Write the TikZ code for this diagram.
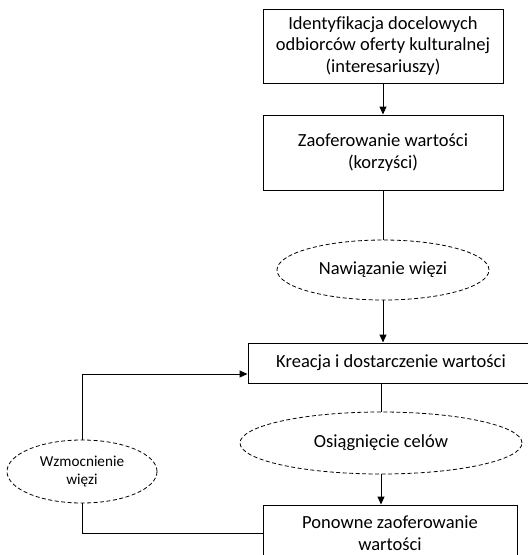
\documentclass[tikz,border=0pt]{standalone}
\usepackage{fontspec}
\setmainfont{Carlito}[Ligatures=NoCommon]
\usetikzlibrary{shapes.geometric,arrows.meta}
\tikzset{
  txt/.style={font=\fontsize{18.5}{21.7}\selectfont, align=center},
  box/.style={txt, draw, line width=1pt, inner sep=0pt},
  oval/.style={txt, ellipse, draw, dashed, dash pattern=on 4pt off 2.5pt, line width=0.8pt, inner sep=0pt},
  conn/.style={line width=1pt},
  arr/.style={conn, -{Triangle[length=8pt,width=7pt]}}
}
\begin{document}
\begin{tikzpicture}[x=1pt,y=-1pt]
\useasboundingbox (0,0) rectangle (528,555);
\node[box, minimum width=240pt, minimum height=74pt] (b1) at (383,46)
  {Identyfikacja docelowych\\odbiorców oferty kulturalnej\\(interesariuszy)};
\node[box, minimum width=240pt, minimum height=75pt] (b2) at (383,152.5)
  {Zaoferowanie wartości\\(korzyści)};
\node[oval, minimum width=212pt, minimum height=60pt] (e1) at (383,270)
  {Nawiązanie więzi};
\node[box, minimum width=286pt, minimum height=40pt] (b3) at (391,363)
  {Kreacja i dostarczenie wartości};
\node[oval, minimum width=282pt, minimum height=62pt] (e2) at (381,443)
  {Osiągnięcie celów};
\node[box, minimum width=254pt, minimum height=56pt] (b4) at (390,533)
  {Ponowne zaoferowanie\\wartości};
\node[oval, font=\fontsize{15.2}{17.5}\selectfont, minimum width=150pt, minimum height=63pt] (e3) at (82,471.5)
  {Wzmocnienie\\więzi};
\draw[arr] (b1) -- (b2);
\draw[conn] (b2.south) -- (e1.north);
\draw[arr] (e1.south) -- (e1.south |- b3.north);
\draw[conn] (e2.north |- b3.south) -- (e2.north);
\draw[arr] (e2.south) -- (e2.south |- b4.north);
\draw[conn] (b4.west) -| (e3.south);
\draw[arr] (e3.north) |- ([yshift=-11pt]b3.west);
\end{tikzpicture}
\end{document}
